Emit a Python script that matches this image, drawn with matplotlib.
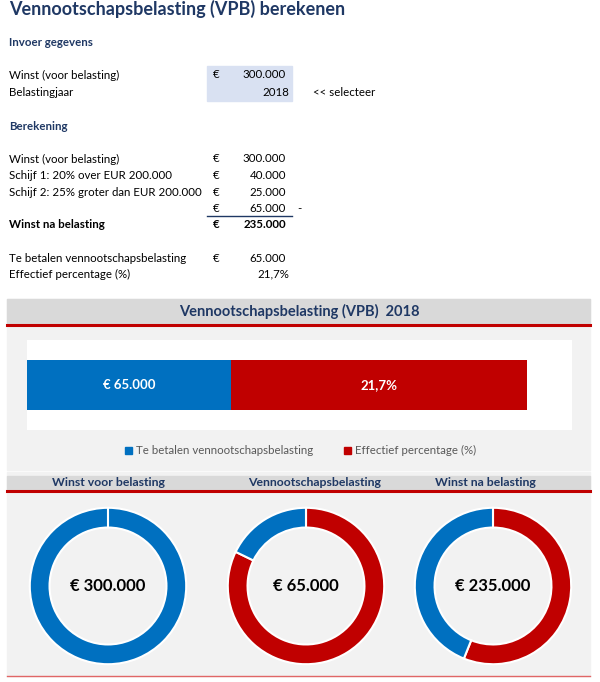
import matplotlib.pyplot as plt
from matplotlib.patches import Rectangle

plt.rcParams['font.family'] = ['Lato', 'DejaVu Sans']

# gegevens
winst_voor = 300000
belastingjaar = 2018
schijf_labels = ['Schijf 1: 20% over EUR 200.000', 'Schijf 2: 25% groter dan EUR 200.000']
schijf_bedragen = [40000, 25000]
vpb_totaal = 65000
winst_na = 235000
effectief_pct = 21.7

bar_waarden = [65000, 94600]
bar_labels = ['€ 65.000', '21,7%']
legenda = ['Te betalen vennootschapsbelasting', 'Effectief percentage (%)']

# donuts (met de klok mee vanaf boven)
donut_titels = ['Winst voor belasting', 'Vennootschapsbelasting', 'Winst na belasting']
donut_waarden = [[300000, 0], [300000, 65000], [300000, 235000]]
donut_teksten = ['€ 300.000', '€ 65.000', '€ 235.000']

BLAUW = '#0070C0'
ROOD = '#C00000'
NAVY = '#1F3864'
GRIJS_KOP = '#D9D9D9'
GRIJS_BG = '#F2F2F2'

W, H = 600, 682
FS = 8.3


def fmt(v):
    return f'{v:,.0f}'.replace(',', '.')


def add_ax(fig, x0, y0, x1, y1):
    # pixel coords (top-left origin) -> figure fraction
    return fig.add_axes([x0 / W, 1 - y1 / H, (x1 - x0) / W, (y1 - y0) / H])


fig = plt.figure(figsize=(6, 6.82), dpi=100)
bg = fig.add_axes([0, 0, 1, 1])
bg.set_xlim(0, W)
bg.set_ylim(H, 0)
bg.set_axis_off()

# --- spreadsheet deel ---
bg.text(9, 9, 'Vennootschapsbelasting (VPB) berekenen', fontsize=13, fontweight='bold',
        color=NAVY, va='center')
bg.text(9, 43, 'Invoer gegevens', fontsize=FS, fontweight='bold', color=NAVY, va='center')

bg.add_patch(Rectangle((207, 66), 85, 35, color='#D9E1F2', zorder=0))
bg.text(9, 75, 'Winst (voor belasting)', fontsize=FS, va='center')
bg.text(213, 75, '€', fontsize=FS, va='center')
bg.text(286, 75, fmt(winst_voor), fontsize=FS, va='center', ha='right')
bg.text(9, 92, 'Belastingjaar', fontsize=FS, va='center')
bg.text(289, 92, str(belastingjaar), fontsize=FS, va='center', ha='right')
bg.text(313, 92, '<< selecteer', fontsize=FS, va='center')

bg.text(9, 126, 'Berekening', fontsize=FS, fontweight='bold', color=NAVY, va='center')
rijen = [('Winst (voor belasting)', winst_voor)] + list(zip(schijf_labels, schijf_bedragen)) \
    + [('', vpb_totaal)]
for i, (lab, val) in enumerate(rijen):
    y = 159 + i * 16.5
    bg.text(9, y, lab, fontsize=FS, va='center')
    bg.text(213, y, '€', fontsize=FS, va='center')
    bg.text(286, y, fmt(val), fontsize=FS, va='center', ha='right')
bg.text(297, 208.5, '-', fontsize=FS, va='center')
bg.plot([207, 292], [216, 216], color=NAVY, lw=1)
bg.text(9, 225, 'Winst na belasting', fontsize=FS, fontweight='bold', va='center')
bg.text(213, 225, '€', fontsize=FS, fontweight='bold', va='center')
bg.text(286, 225, fmt(winst_na), fontsize=FS, fontweight='bold', va='center', ha='right')

bg.text(9, 258, 'Te betalen vennootschapsbelasting', fontsize=FS, va='center')
bg.text(213, 258, '€', fontsize=FS, va='center')
bg.text(286, 258, fmt(vpb_totaal), fontsize=FS, va='center', ha='right')
bg.text(9, 274, 'Effectief percentage (%)', fontsize=FS, va='center')
bg.text(289, 274, f'{effectief_pct:.1f}%'.replace('.', ','), fontsize=FS, va='center', ha='right')

# --- panelen ---
bg.add_patch(Rectangle((7, 299), 583, 171, color=GRIJS_BG, zorder=0))
bg.add_patch(Rectangle((7, 299), 583, 24, color=GRIJS_KOP, zorder=0))
bg.plot([7, 590], [324.5, 324.5], color=ROOD, lw=2.2)
bg.text(299, 311, f'Vennootschapsbelasting (VPB)  {belastingjaar}', fontsize=10.5,
        fontweight='bold', color=NAVY, ha='center', va='center')

bg.add_patch(Rectangle((7, 472), 583, 204, color=GRIJS_BG, zorder=0))
bg.add_patch(Rectangle((7, 476), 583, 14, color=GRIJS_KOP, zorder=0))
bg.plot([7, 590], [491, 491], color=ROOD, lw=2.2)
bg.plot([7, 590], [675.5, 675.5], color='#E06666', lw=1)
for titel, xc in zip(donut_titels, [108, 315, 485]):
    bg.text(xc, 483, titel, fontsize=8.8, fontweight='bold', color=NAVY, ha='center', va='center')

# legenda
for (kleur, tekst, x) in zip([BLAUW, ROOD], legenda, [128, 347]):
    bg.add_patch(Rectangle((x - 3.5, 446.5), 7, 7, color=kleur))
    bg.text(x + 8, 450, tekst, fontsize=FS, color='#595959', va='center')

# --- staafdiagram ---
ax = add_ax(fig, 27, 340, 572, 430)
ax.set_facecolor('white')
links = 0
for val, kleur, lab in zip(bar_waarden, [BLAUW, ROOD], bar_labels):
    ax.barh(0, val, left=links, height=0.55, color=kleur)
    ax.text(links + val / 2, 0, lab, color='white', fontweight='bold', fontsize=9.5,
            ha='center', va='center')
    links += val
ax.set_xlim(0, 174000)
ax.set_ylim(-0.5, 0.5)
ax.set_xticks([])
ax.set_yticks([])
for s in ax.spines.values():
    s.set_visible(False)

# --- donuts ---
for xc, waarden, tekst, i in zip([108, 306, 493], donut_waarden, donut_teksten, range(3)):
    dax = add_ax(fig, xc - 79, 586 - 79, xc + 79, 586 + 79)
    kleuren = [BLAUW, ROOD] if i == 0 else [ROOD, BLAUW]
    dax.pie(waarden, colors=kleuren, startangle=90, counterclock=False, radius=0.99,
            wedgeprops=dict(width=0.25, edgecolor='white', linewidth=1.5))
    dax.set_xlim(-1, 1)
    dax.set_ylim(-1, 1)
    dax.set_aspect('equal')
    dax.text(0, 0, tekst, fontsize=12, fontweight='bold', ha='center', va='center')

plt.savefig('out.png', dpi=100)
